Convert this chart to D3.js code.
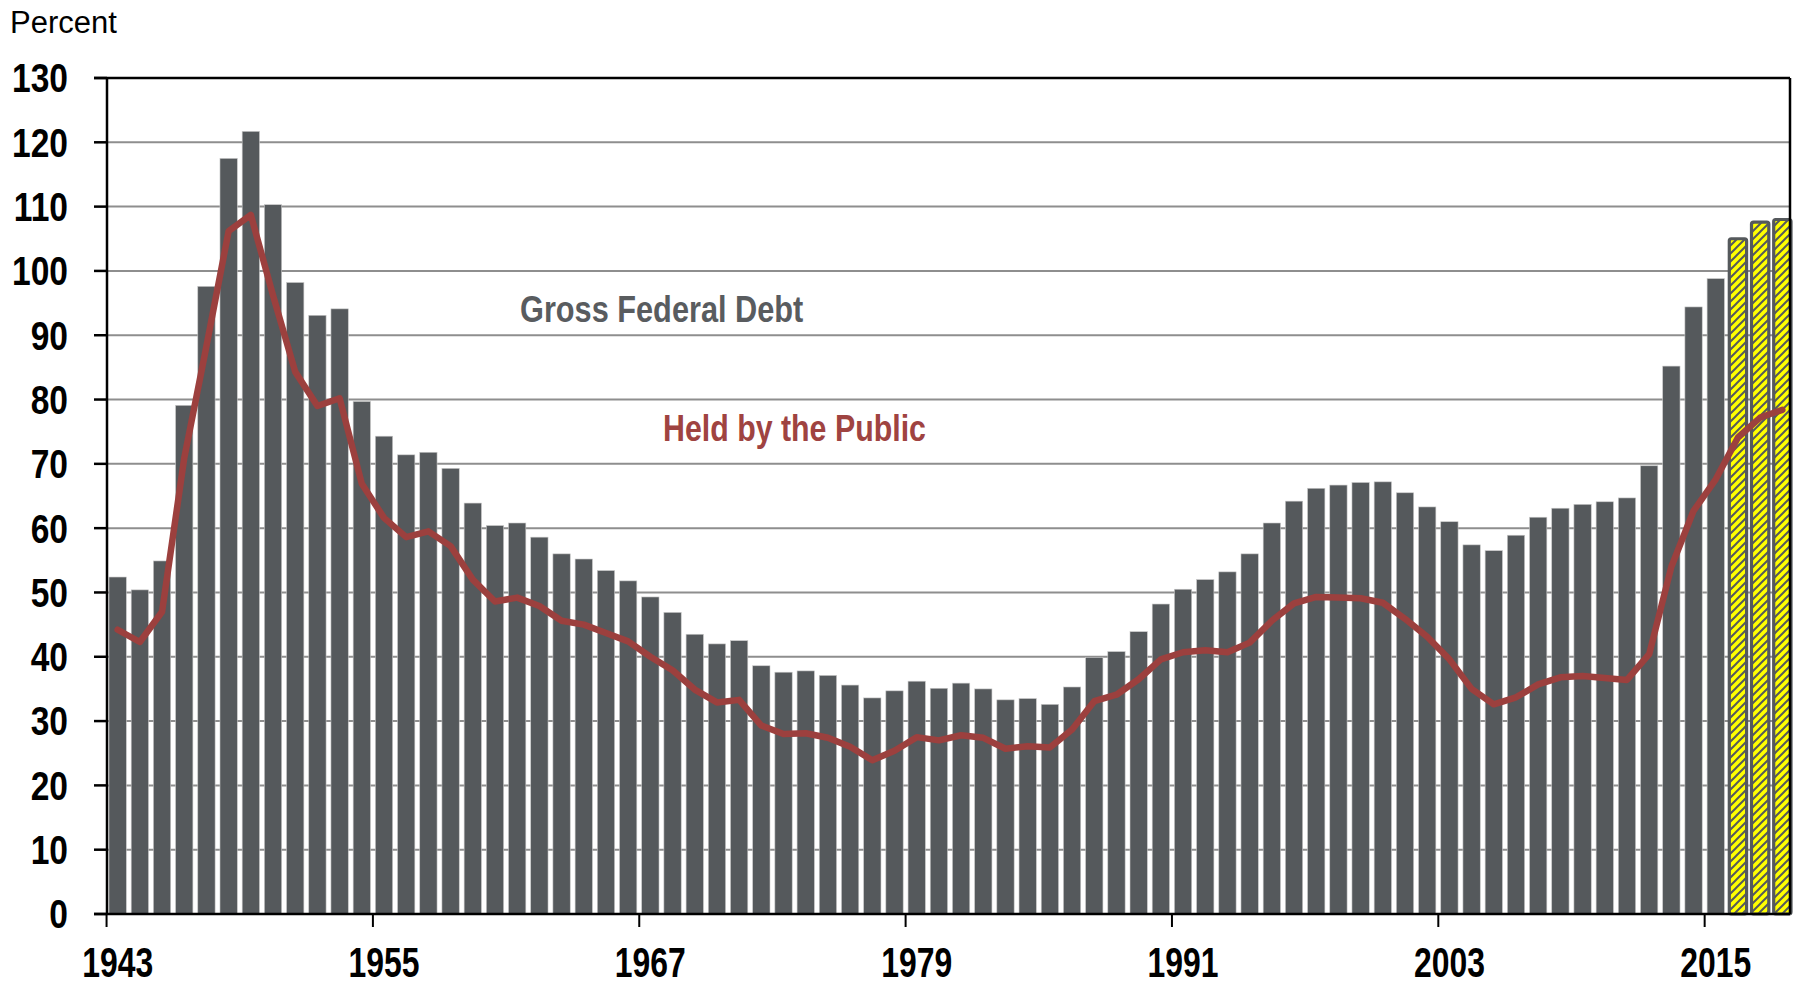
<!DOCTYPE html>
<html>
<head>
<meta charset="utf-8">
<script src="https://cdn.jsdelivr.net/npm/d3@7"></script>
<style>
  html, body { margin: 0; padding: 0; background: #fff; }
  svg { display: block; }
  .narrow { font-family: "Liberation Sans", Arial, sans-serif; font-weight: bold; }
</style>
</head>
<body>
<div id="chart"></div>
<script>
// 年份（最后三年为预估值，用斜纹柱表示）
const years = d3.range(1943, 2019);
const estimateYears = [2016, 2017, 2018];
const tickYears = [1943, 1955, 1967, 1979, 1991, 2003, 2015];
const yTicks = d3.range(0, 131, 10);

// Gross Federal Debt（占 GDP 百分比）
const grossDebt = [
  52.4, 50.4, 54.9, 79.1, 97.6, 117.5, 121.7, 110.3, 98.2, 93.1, 94.1, 79.7,
  74.3, 71.4, 71.8, 69.3, 63.9, 60.4, 60.8, 58.6, 56.0, 55.2, 53.4, 51.8,
  49.3, 46.9, 43.5, 42.0, 42.5, 38.6, 37.6,
  37.8, 37.1, 35.6, 33.6, 34.7, 36.2, 35.1, 35.9, 35.0, 33.3, 33.5, 32.6,
  35.3, 39.9, 40.8, 43.9, 48.2,
  50.5, 52.0, 53.2, 56.0, 60.8, 64.2, 66.2, 66.7, 67.1, 67.2, 65.5, 63.3,
  61.0, 57.4, 56.5, 58.9, 61.7, 63.1, 63.7, 64.1, 64.7, 69.7, 85.2, 94.4,
  98.8, 105.0, 107.6, 108.0
];

// Held by the Public
const heldByPublic = [
  44.2, 42.3, 47.0, 70.9, 88.3, 106.2, 108.7, 96.2, 84.3, 79.0, 80.2, 66.9,
  61.6, 58.6, 59.5, 57.2, 52.0, 48.6, 49.2, 47.9, 45.6, 45.0, 43.7, 42.4,
  40.0, 37.9, 34.9, 32.9, 33.3, 29.3, 28.0,
  28.1, 27.4, 26.0, 23.9, 25.4, 27.5, 27.0, 27.8, 27.4, 25.7, 26.1, 25.9,
  28.7, 33.1, 34.1, 36.5, 39.6,
  40.7, 41.0, 40.7, 42.2, 45.6, 48.3, 49.3, 49.2, 49.1, 48.4, 45.9, 43.1,
  39.6, 35.0, 32.6, 33.7, 35.7, 36.8, 37.0, 36.7, 36.4, 40.4, 54.0, 62.7,
  67.6, 74.1, 77.2, 78.4
];

const width = 1798, height = 985;
const plot = { left: 107, right: 1790, top: 78, bottom: 914 };

const barColor = '#55595c';
const lineColor = '#9c403e';

const svg = d3.select('#chart').append('svg')
  .attr('width', width)
  .attr('height', height);

// 斜纹图案
const defs = svg.append('defs');
const pat = defs.append('pattern')
  .attr('id', 'hatch')
  .attr('patternUnits', 'userSpaceOnUse')
  .attr('width', 8).attr('height', 8);
pat.append('rect').attr('width', 8).attr('height', 8).attr('fill', '#ffff00');
pat.append('path')
  .attr('d', 'M0,8 L8,0 M-2,2 L2,-2 M6,10 L10,6')
  .attr('stroke', barColor)
  .attr('stroke-width', 2);

const x = d3.scaleBand()
  .domain(years)
  .range([109, 1791])
  .paddingInner(0.22)
  .paddingOuter(0);

const y = d3.scaleLinear()
  .domain([0, 130])
  .range([plot.bottom, plot.top]);

const halfGap = (x.step() - x.bandwidth()) / 2;

// 网格线
svg.append('g')
  .selectAll('line')
  .data(yTicks.filter(d => d > 0 && d < 130))
  .enter()
  .append('line')
  .attr('x1', plot.left).attr('x2', plot.right)
  .attr('y1', d => y(d)).attr('y2', d => y(d))
  .attr('stroke', '#8e8e8e')
  .attr('stroke-width', 2);

// 柱子
const data = years.map((yr, i) => ({ year: yr, gross: grossDebt[i], held: heldByPublic[i] }));

svg.append('g')
  .selectAll('rect')
  .data(data)
  .enter()
  .append('rect')
  .attr('x', d => x(d.year))
  .attr('width', x.bandwidth())
  .attr('y', d => y(d.gross))
  .attr('height', d => y(0) - y(d.gross))
  .attr('fill', d => estimateYears.includes(d.year) ? 'url(#hatch)' : barColor)
  .attr('stroke', d => estimateYears.includes(d.year) ? barColor : '#c8c8c8')
  .attr('stroke-width', d => estimateYears.includes(d.year) ? 3.2 : 0.6)
  .attr('rx', d => estimateYears.includes(d.year) ? 2 : 0);

// Held by the Public 折线
const line = d3.line()
  .x(d => x(d.year) + x.bandwidth() / 2)
  .y(d => y(d.held));

svg.append('path')
  .datum(data)
  .attr('d', line)
  .attr('fill', 'none')
  .attr('stroke', lineColor)
  .attr('stroke-width', 6.5)
  .attr('stroke-linejoin', 'round')
  .attr('stroke-linecap', 'round');

// 边框
svg.append('line')
  .attr('x1', 94).attr('x2', plot.right)
  .attr('y1', plot.top).attr('y2', plot.top)
  .attr('stroke', '#000').attr('stroke-width', 2.5);
svg.append('line')
  .attr('x1', plot.right).attr('x2', plot.right)
  .attr('y1', plot.top).attr('y2', plot.bottom)
  .attr('stroke', '#000').attr('stroke-width', 2.5);

// y 轴
const yAxis = svg.append('g');
yAxis.append('line')
  .attr('x1', plot.left).attr('x2', plot.left)
  .attr('y1', plot.top).attr('y2', plot.bottom + 1)
  .attr('stroke', '#000').attr('stroke-width', 2.5);
yAxis.selectAll('.tick')
  .data(yTicks)
  .enter()
  .append('line')
  .attr('x1', 94).attr('x2', plot.left)
  .attr('y1', d => y(d)).attr('y2', d => y(d))
  .attr('stroke', '#000').attr('stroke-width', 2.5);
yAxis.selectAll('text')
  .data(yTicks)
  .enter()
  .append('text')
  .attr('class', 'narrow')
  .attr('transform', d => `translate(68,${y(d)}) scale(0.84,1)`)
  .attr('dy', '0.36em')
  .attr('text-anchor', 'end')
  .style('font-size', '40px')
  .attr('fill', '#000')
  .text(d => d);

// x 轴
const xAxis = svg.append('g');
xAxis.append('line')
  .attr('x1', 94).attr('x2', plot.right)
  .attr('y1', plot.bottom).attr('y2', plot.bottom)
  .attr('stroke', '#000').attr('stroke-width', 2.5);
xAxis.selectAll('.tick')
  .data(tickYears)
  .enter()
  .append('line')
  .attr('x1', d => x(d) - halfGap).attr('x2', d => x(d) - halfGap)
  .attr('y1', plot.bottom).attr('y2', plot.bottom + 13)
  .attr('stroke', '#000').attr('stroke-width', 2);
xAxis.selectAll('text')
  .data(tickYears)
  .enter()
  .append('text')
  .attr('class', 'narrow')
  .attr('transform', d => `translate(${x(d) + x.bandwidth() / 2},977) scale(0.76,1)`)
  .attr('text-anchor', 'middle')
  .style('font-size', '42px')
  .attr('fill', '#000')
  .text(d => d);

// 标题与标注
svg.append('text')
  .attr('x', 10).attr('y', 33)
  .style('font-family', '"Liberation Sans", Arial, sans-serif')
  .style('font-size', '31px')
  .attr('fill', '#000')
  .text('Percent');

svg.append('text')
  .attr('class', 'narrow')
  .attr('transform', 'translate(520,322) scale(0.83,1)')
  .style('font-size', '37px')
  .attr('fill', '#595c5f')
  .text('Gross Federal Debt');

svg.append('text')
  .attr('class', 'narrow')
  .attr('transform', 'translate(663,441) scale(0.82,1)')
  .style('font-size', '37px')
  .attr('fill', '#9f4341')
  .text('Held by the Public');
</script>
</body>
</html>
